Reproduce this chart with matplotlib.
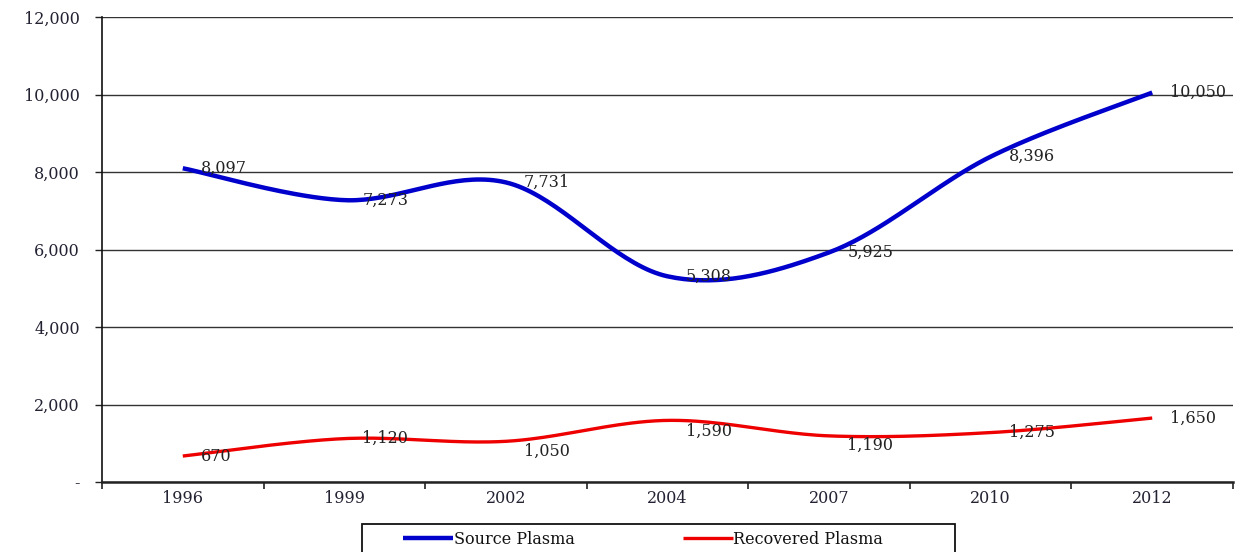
import numpy as np
import matplotlib
matplotlib.use("Agg")
import matplotlib.pyplot as plt
from matplotlib.ticker import FixedLocator, FuncFormatter
from matplotlib.patches import Rectangle

years = ["1996", "1999", "2002", "2004", "2007", "2010", "2012"]
source_plasma = [8097, 7273, 7731, 5308, 5925, 8396, 10050]
recovered_plasma = [670, 1120, 1050, 1590, 1190, 1275, 1650]
yticks = [0, 2000, 4000, 6000, 8000, 10000, 12000]

# label vertical offsets in points (layout only)
src_dy = [0, 0, 0, 0, 0, 0, 0]
rec_dy = [0, 0, -7, -8, -7, 0, 0]

FONT = "DejaVu Serif"
plt.rcParams["font.family"] = [FONT, "DejaVu Sans"]
W, H = 1248, 552


def smooth(xs, ys, n=40):
    xs = np.asarray(xs, float)
    ys = np.asarray(ys, float)
    P = np.column_stack([xs, ys])
    P = np.vstack([P[0], P, P[-1]])
    out = []
    for i in range(1, len(P) - 2):
        p0, p1, p2, p3 = P[i - 1], P[i], P[i + 1], P[i + 2]
        m1 = (p2 - p0) / 2.0
        m2 = (p3 - p1) / 2.0
        t = np.linspace(0, 1, n)[:, None]
        h00 = 2 * t**3 - 3 * t**2 + 1
        h10 = t**3 - 2 * t**2 + t
        h01 = -2 * t**3 + 3 * t**2
        h11 = t**3 - t**2
        seg = h00 * p1 + h10 * m1 + h01 * p2 + h11 * m2
        out.append(seg if i == 1 else seg[1:])
    c = np.vstack(out)
    return c[:, 0], c[:, 1]


fig = plt.figure(figsize=(W / 100, H / 100), dpi=100)
ax = fig.add_axes([102 / W, 1 - 482 / H, (1233 - 102) / W, (482 - 17) / H])

x = np.arange(len(years))
sx, sy = smooth(x, source_plasma)
rx, ry = smooth(x, recovered_plasma)
ax.plot(sx, sy, color="#0000CC", lw=3.2, solid_capstyle="butt", label="Source Plasma", zorder=3)
ax.plot(rx, ry, color="#EE0000", lw=2.4, solid_capstyle="butt", label="Recovered Plasma", zorder=3)

LBL = 11.5
for xi, v, dy in zip(x, source_plasma, src_dy):
    ax.annotate(f"{v:,}", (xi, v), xytext=(13, dy), textcoords="offset points",
                ha="left", va="center", fontsize=LBL, color="#222222", zorder=4)
for xi, v, dy in zip(x, recovered_plasma, rec_dy):
    ax.annotate(f"{v:,}", (xi, v), xytext=(13, dy), textcoords="offset points",
                ha="left", va="center", fontsize=LBL, color="#222222", zorder=4)

ax.set_xlim(-0.5, len(years) - 0.5)
ax.set_ylim(0, 12000)
ax.set_yticks(yticks)
ax.yaxis.set_major_formatter(FuncFormatter(lambda v, p: "-" if v == 0 else f"{int(v):,}"))
ax.grid(axis="y", color="#333333", lw=1.0)
ax.set_axisbelow(True)

ax.xaxis.set_major_locator(FixedLocator(np.arange(-0.5, len(years), 1.0)))
ax.xaxis.set_major_formatter(FuncFormatter(lambda v, p: ""))
ax.xaxis.set_minor_locator(FixedLocator(x))
ax.set_xticklabels(years, minor=True)
ax.tick_params(axis="x", which="minor", length=0, pad=6, labelsize=11.5, labelcolor="#222233")
ax.tick_params(axis="x", which="major", length=5, width=1.2, direction="out", color="#222222")
ax.tick_params(axis="y", length=5, width=1.0, direction="out", pad=11, labelsize=11.5,
               labelcolor="#222233", color="#222222")

for s in ["top", "right"]:
    ax.spines[s].set_visible(False)
ax.spines["left"].set_color("#111111")
ax.spines["left"].set_linewidth(1.2)
ax.spines["bottom"].set_color("#222222")
ax.spines["bottom"].set_linewidth(1.8)

# legend: content + separate frame box
LFS = 11.5
em = LFS * 100 / 72
leg = fig.legend(loc="center left", bbox_to_anchor=(403 / W, 1 - 539 / H), ncol=2,
                 frameon=False, fontsize=LFS, handlelength=50 / em, handletextpad=0.05,
                 columnspacing=108 / em, borderaxespad=0, borderpad=0)
for txt in leg.get_texts():
    txt.set_color("#111111")
frame = Rectangle((362 / W, 1 - 570 / H), (955 - 362) / W, (570 - 524) / H,
                  transform=fig.transFigure, fill=False, edgecolor="#111111", lw=1.3,
                  clip_on=False)
fig.add_artist(frame)

fig.savefig("out.png", dpi=100)
